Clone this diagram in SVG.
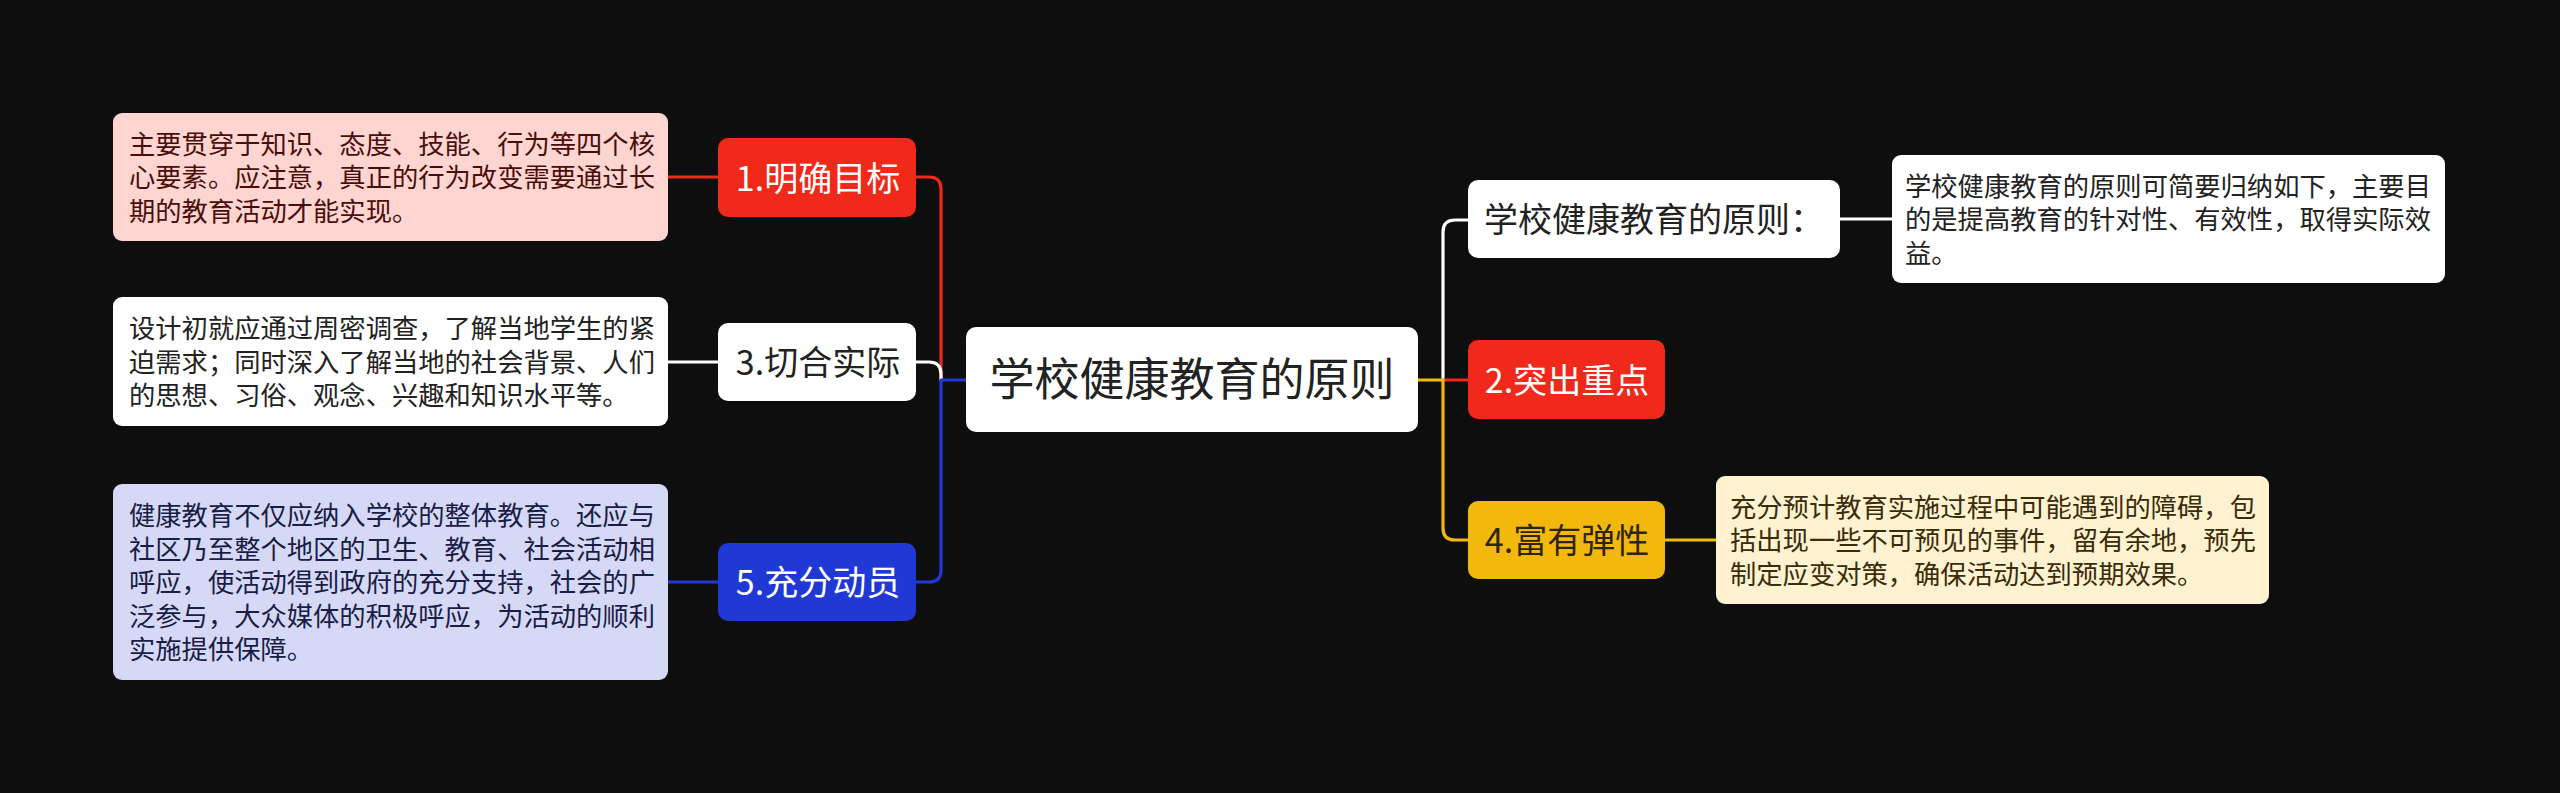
<svg xmlns="http://www.w3.org/2000/svg" width="2560" height="793" viewBox="0 0 2560 793">
<style>
.bg{fill:#0e0e0e}
.t{font-family:"Noto Sans CJK SC","Noto Sans",sans-serif}
.node{font-size:34px}
.leaf{font-size:26.3px}
.c{fill:none;stroke-width:3.2;stroke-linecap:round;stroke-linejoin:round}
</style>
<rect class="bg" x="0" y="0" width="2560" height="793"/>
<g id="connectors">
  <path class="c" stroke="#f0291a" d="M668,177 H718"/>
  <path class="c" stroke="#ffffff" d="M668,362 H718"/>
  <path class="c" stroke="#2038d4" d="M668,582 H718"/>
  <path class="c" stroke="#ffffff" d="M1840,219 H1892"/>
  <path class="c" stroke="#f2b90c" d="M1665,540 H1716"/>
  <path class="c" stroke="#f0291a" d="M941,380 V189 Q941,177 929,177 H916"/>
  <path class="c" stroke="#ffffff" d="M916,362 H929 Q941,362 941,374 V380"/>
  <path class="c" stroke="#2038d4" d="M966,380 H941 V570 Q941,582 929,582 H916"/>
  <path class="c" stroke="#ffffff" d="M1443,380 V232 Q1443,220 1455,220 H1468"/>
  <path class="c" stroke="#f0291a" d="M1443,380 H1468"/>
  <path class="c" stroke="#f2b90c" d="M1418,380 H1443 V528 Q1443,540 1455,540 H1468"/>
</g>
<g id="root">
  <rect x="966" y="327" width="452" height="105" rx="10" fill="#ffffff"/>
  <text class="t" x="1192" y="396" font-size="45" text-anchor="middle" fill="#222222">学校健康教育的原则</text>
</g>
<g id="n1">
  <rect x="718" y="138" width="198" height="79" rx="10" fill="#f0291a"/>
  <text class="t node" x="818" y="190.5" text-anchor="middle" fill="#ffffff">1.明确目标</text>
</g>
<g id="n1-detail">
  <rect x="113" y="113" width="555" height="128" rx="9" fill="#ffd5d2"/>
  <text class="t leaf" fill="#4a0e0a"><tspan x="129" y="153.5">主要贯穿于知识、态度、技能、行为等四个核</tspan><tspan x="129" y="187">心要素。应注意，真正的行为改变需要通过长</tspan><tspan x="129" y="220.5">期的教育活动才能实现。</tspan></text>
</g>
<g id="n3">
  <rect x="718" y="323" width="198" height="78" rx="10" fill="#ffffff"/>
  <text class="t node" x="818" y="375" text-anchor="middle" fill="#222222">3.切合实际</text>
</g>
<g id="n3-detail">
  <rect x="113" y="297" width="555" height="129" rx="9" fill="#ffffff"/>
  <text class="t leaf" fill="#222222"><tspan x="129" y="338">设计初就应通过周密调查，了解当地学生的紧</tspan><tspan x="129" y="371.5">迫需求；同时深入了解当地的社会背景、人们</tspan><tspan x="129" y="405">的思想、习俗、观念、兴趣和知识水平等。</tspan></text>
</g>
<g id="n5">
  <rect x="718" y="543" width="198" height="78" rx="10" fill="#2038d4"/>
  <text class="t node" x="818" y="595" text-anchor="middle" fill="#ffffff">5.充分动员</text>
</g>
<g id="n5-detail">
  <rect x="113" y="484" width="555" height="196" rx="9" fill="#d5d9f6"/>
  <text class="t leaf" fill="#1a1d45"><tspan x="129" y="525">健康教育不仅应纳入学校的整体教育。还应与</tspan><tspan x="129" y="558.5">社区乃至整个地区的卫生、教育、社会活动相</tspan><tspan x="129" y="592">呼应，使活动得到政府的充分支持，社会的广</tspan><tspan x="129" y="625.5">泛参与，大众媒体的积极呼应，为活动的顺利</tspan><tspan x="129" y="659">实施提供保障。</tspan></text>
</g>
<g id="n0">
  <rect x="1468" y="180" width="372" height="78" rx="10" fill="#ffffff"/>
  <text class="t node" x="1484" y="232" fill="#222222">学校健康教育的原则：</text>
</g>
<g id="n0-detail">
  <rect x="1892" y="155" width="553" height="128" rx="9" fill="#ffffff"/>
  <text class="t leaf" fill="#222222"><tspan x="1905" y="195.5">学校健康教育的原则可简要归纳如下，主要目</tspan><tspan x="1905" y="229">的是提高教育的针对性、有效性，取得实际效</tspan><tspan x="1905" y="262.5">益。</tspan></text>
</g>
<g id="n2">
  <rect x="1468" y="340" width="197" height="79" rx="10" fill="#f0291a"/>
  <text class="t node" x="1567" y="392.5" text-anchor="middle" fill="#ffffff">2.突出重点</text>
</g>
<g id="n4">
  <rect x="1468" y="501" width="197" height="78" rx="10" fill="#f2b90c"/>
  <text class="t node" x="1567" y="553" text-anchor="middle" fill="#2e2410">4.富有弹性</text>
</g>
<g id="n4-detail">
  <rect x="1716" y="476" width="553" height="128" rx="9" fill="#fef2d1"/>
  <text class="t leaf" fill="#3a2c08"><tspan x="1730" y="516.5">充分预计教育实施过程中可能遇到的障碍，包</tspan><tspan x="1730" y="550">括出现一些不可预见的事件，留有余地，预先</tspan><tspan x="1730" y="583.5">制定应变对策，确保活动达到预期效果。</tspan></text>
</g>
</svg>
